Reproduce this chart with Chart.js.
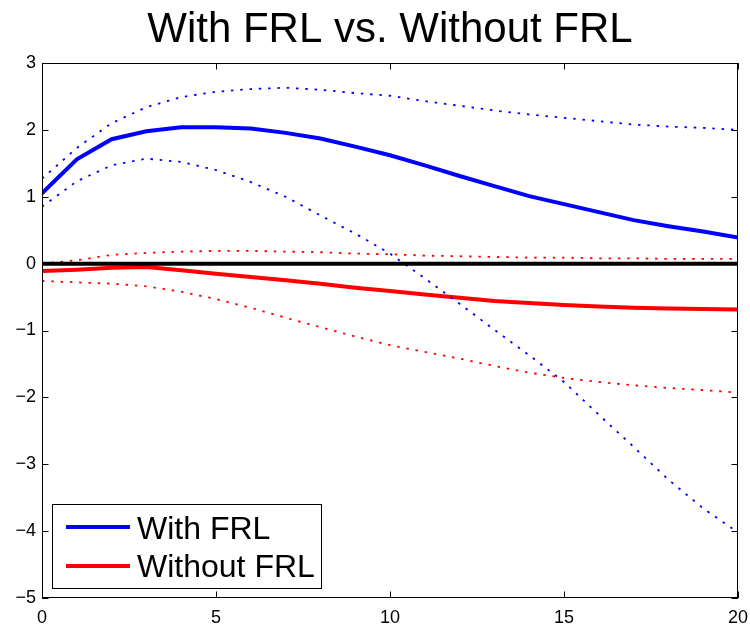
<!DOCTYPE html>
<html>
<head>
<meta charset="utf-8">
<script src="https://cdn.jsdelivr.net/npm/chart.js@4.4.1/dist/chart.umd.min.js"></script>
<style>
  html, body { margin: 0; padding: 0; background: #fff; }
  #wrap { width: 750px; height: 630px; position: relative; }
</style>
</head>
<body>
<div id="wrap"><canvas id="c" width="750" height="630"></canvas></div>
<script>
// ---- data ----
const titleText = "With FRL vs. Without FRL";
const seriesNames = ["With FRL", "Without FRL"];
const steps = [0,1,2,3,4,5,6,7,8,9,10,11,12,13,14,15,16,17,18,19,20];
const withFRL      = [1.05,1.56,1.86,1.98,2.04,2.04,2.02,1.955,1.87,1.75,1.62,1.47,1.31,1.16,1.01,0.89,0.77,0.65,0.56,0.48,0.39];
const withUpper    = [1.27,1.73,2.10,2.34,2.49,2.57,2.61,2.63,2.60,2.55,2.51,2.43,2.36,2.29,2.23,2.18,2.13,2.08,2.05,2.03,2.00];
const withLower    = [0.85,1.23,1.47,1.57,1.52,1.40,1.22,1.00,0.72,0.45,0.15,-0.22,-0.60,-0.99,-1.37,-1.77,-2.26,-2.74,-3.23,-3.66,-4.02];
const withoutFRL   = [-0.11,-0.09,-0.06,-0.05,-0.10,-0.15,-0.20,-0.25,-0.30,-0.36,-0.41,-0.46,-0.51,-0.56,-0.59,-0.62,-0.64,-0.66,-0.67,-0.68,-0.685];
const withoutUpper = [0.00,0.05,0.13,0.16,0.18,0.19,0.19,0.18,0.17,0.15,0.14,0.12,0.11,0.10,0.09,0.09,0.08,0.08,0.07,0.07,0.07];
const withoutLower = [-0.26,-0.28,-0.30,-0.34,-0.42,-0.53,-0.66,-0.81,-0.95,-1.09,-1.22,-1.32,-1.42,-1.53,-1.63,-1.71,-1.77,-1.82,-1.86,-1.89,-1.93];
const xTicks = [0,5,10,15,20];
const yTicks = [-5,-4,-3,-2,-1,0,1,2,3];
const refLineValue = 0;

const FONT = '"Liberation Sans", Arial, Helvetica, sans-serif';
const BLUE = '#0000ff', RED = '#ff0000';

function pts(arr) { return steps.map((s, i) => ({x: s, y: arr[i]})); }

const dotted = [2.5, 6.8];

const boxPlugin = {
  id: 'boxPlugin',
  afterDatasetsDraw(chart) {
    const {ctx, chartArea: a, scales: {x, y}} = chart;
    ctx.save();
    // reference line at zero
    const y0 = y.getPixelForValue(refLineValue);
    ctx.strokeStyle = '#000'; ctx.lineWidth = 4;
    ctx.beginPath(); ctx.moveTo(a.left, y0); ctx.lineTo(a.right, y0); ctx.stroke();
    // box
    ctx.lineWidth = 1;
    ctx.strokeRect(a.left + 0.5, a.top + 0.5, a.right - a.left - 1, a.bottom - a.top - 1);
    // inward ticks
    const tl = 6.5;
    ctx.beginPath();
    xTicks.forEach(v => {
      const px = Math.round(x.getPixelForValue(v)) + 0.5;
      ctx.moveTo(px, a.bottom); ctx.lineTo(px, a.bottom - tl);
      ctx.moveTo(px, a.top); ctx.lineTo(px, a.top + tl);
    });
    yTicks.forEach(v => {
      const py = Math.round(y.getPixelForValue(v)) + 0.5;
      ctx.moveTo(a.left, py); ctx.lineTo(a.left + tl, py);
      ctx.moveTo(a.right, py); ctx.lineTo(a.right - tl, py);
    });
    ctx.stroke();
    // legend
    const lx = 52.5, ly = 504.5, lw = 269, lh = 84;
    ctx.fillStyle = '#fff';
    ctx.fillRect(lx, ly, lw, lh);
    ctx.strokeStyle = '#000'; ctx.lineWidth = 1;
    ctx.strokeRect(lx, ly, lw, lh);
    const rows = [{c: BLUE, t: seriesNames[0], ly: 527, by: 539}, {c: RED, t: seriesNames[1], ly: 566, by: 577}];
    ctx.font = '32px ' + FONT;
    ctx.textBaseline = 'alphabetic';
    ctx.textAlign = 'left';
    rows.forEach(r => {
      ctx.strokeStyle = r.c; ctx.lineWidth = 4;
      ctx.beginPath(); ctx.moveTo(66, r.ly); ctx.lineTo(130, r.ly); ctx.stroke();
      ctx.fillStyle = '#000';
      ctx.fillText(r.t, 137, r.by);
    });
    // title
    ctx.font = '42px ' + FONT;
    ctx.textAlign = 'center';
    ctx.fillText(titleText, (a.left + a.right) / 2, 42);
    ctx.restore();
  }
};

new Chart(document.getElementById('c'), {
  type: 'line',
  data: {
    datasets: [
      {label: seriesNames[0], data: pts(withFRL), borderColor: BLUE, borderWidth: 4, tension: 0},
      {label: 'upper', data: pts(withUpper), borderColor: BLUE, borderWidth: 1.8, borderDash: dotted, tension: 0},
      {label: 'lower', data: pts(withLower), borderColor: BLUE, borderWidth: 1.8, borderDash: dotted, tension: 0},
      {label: seriesNames[1], data: pts(withoutFRL), borderColor: RED, borderWidth: 4, tension: 0},
      {label: 'upper2', data: pts(withoutUpper), borderColor: RED, borderWidth: 1.8, borderDash: dotted, tension: 0},
      {label: 'lower2', data: pts(withoutLower), borderColor: RED, borderWidth: 1.8, borderDash: dotted, tension: 0}
    ]
  },
  options: {
    responsive: false,
    animation: false,
    devicePixelRatio: 1,
    elements: {point: {radius: 0, hoverRadius: 0}, line: {borderCapStyle: 'butt'}},
    layout: {padding: {top: 63, right: 12, left: 0, bottom: 0}},
    plugins: {legend: {display: false}, title: {display: false}, tooltip: {enabled: false}},
    scales: {
      x: {
        type: 'linear', min: 0, max: 20,
        afterBuildTicks: s => { s.ticks = xTicks.map(v => ({value: v})); },
        afterFit: s => { s.height = 32; s.paddingRight = 0; s.paddingLeft = 0; },
        grid: {display: false, drawTicks: false},
        border: {display: false},
        ticks: {color: '#000', font: {family: FONT, size: 18}, padding: 9, maxRotation: 0,
                callback: v => String(v).replace('-', '\u2212')}
      },
      y: {
        type: 'linear', min: -5, max: 3,
        afterBuildTicks: s => { s.ticks = yTicks.map(v => ({value: v})); },
        afterFit: s => { s.width = 42; s.paddingTop = 0; s.paddingBottom = 0; },
        grid: {display: false, drawTicks: false},
        border: {display: false},
        ticks: {color: '#000', font: {family: FONT, size: 18}, padding: 6,
                callback: v => String(v).replace('-', '\u2212')}
      }
    }
  },
  plugins: [boxPlugin]
});
</script>
</body>
</html>
